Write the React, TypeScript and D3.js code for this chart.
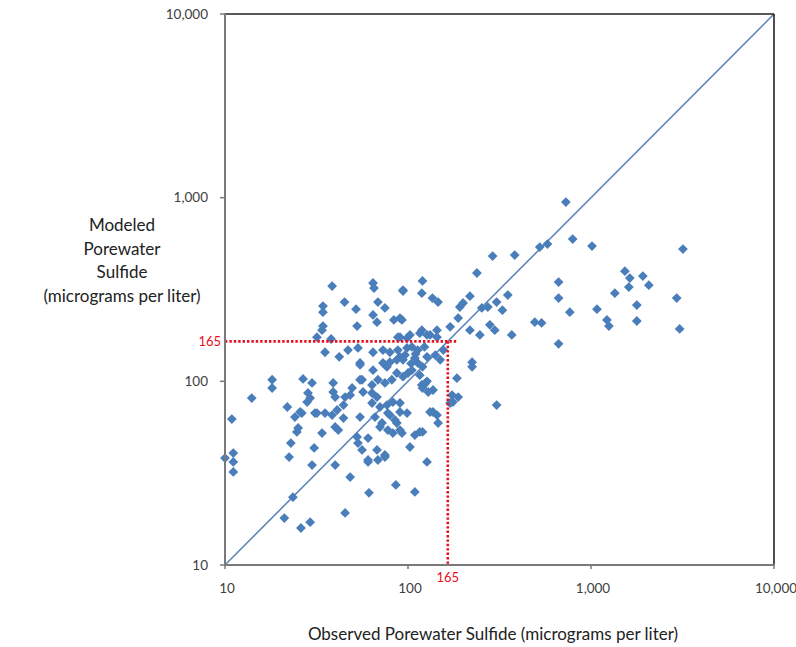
import React from "react";
import * as d3 from "d3";

// Observed porewater sulfide (µg/L) for each station
const observed: number[] = [
  10.9, 10, 11.1, 11.1, 11.1, 24.1, 26.3, 25.1, 24.7, 22.9, 22.4, 30.7, 29.9, 23.5, 21.1, 26.0, 29.2, 40.0, 48.3, 45.3,
  61.2, 85.8, 102.5, 109, 52.7, 53.3, 56.1, 60.5, 68.5, 74.8, 67.7, 33.9, 40.0, 41.6, 35.2, 38.5, 66.0, 72.1, 77.6, 86.9,
  92.7, 98.8, 77.6, 28.1, 25.7, 31.0, 41.0, 44.4, 54.7, 63.6, 70.3, 76.7, 82.7, 90.4, 79.6, 84.8, 90.4, 70.3, 82.7, 90.4,
  60.5, 74.8, 60.5, 109, 120, 127, 132, 144, 146, 176, 47.0, 54.7, 54.7, 49.5, 64.4, 73.0, 79.6, 64.4, 73.0, 76.7,
  79.6, 86.9, 90.4, 96.3, 68.5, 74.8, 81.6, 86.9, 93.9, 100, 105, 56.8, 63.6, 67.7, 90.4, 102.5, 116, 132, 144, 88.0,
  98.8, 105, 113, 123, 127, 141, 150, 109, 113, 120, 127, 120, 129, 137, 185, 188, 45.3, 238, 120, 93.9,
  119, 136, 146, 218, 200, 192, 253, 273, 305, 328, 351, 170, 188, 218, 247, 280, 298, 369, 119, 127,
  144, 92.7, 224, 224, 174, 305, 137, 119, 156, 170, 116, 729, 525, 578, 794, 1013, 3180, 665, 665, 766,
  493, 537, 665, 1532, 1630, 1920, 2070, 1610, 1350, 1078, 1222, 1253, 1780, 1780, 2940, 3050, 38.5, 64.4, 65.2, 93.9,
  34.3, 34.3, 45.0, 52.0, 68.5, 74.8, 64.4, 67.7, 83.7, 90.4, 34.3, 33.9, 31.8, 52.7, 88.0, 98.8, 38.0, 35.2, 42.1, 53.3,
  54.7, 74.8, 93.9, 18.1, 18.1, 14.0, 26.7, 29.9, 39.0, 39.0, 40.0, 48.3, 56.1, 63.6, 28.4, 29.2, 21.9, 31.8, 44.4, 290,
  383, 110, 116, 104, 124,
];

// Modeled porewater sulfide (µg/L), same order as observed
const modeled: number[] = [
  62.3, 38.2, 40.7, 36.4, 32.1, 63.9, 67.2, 55.7, 53.0, 46.1, 38.7, 43.4, 35.0, 23.4, 18.0, 15.9, 17.1, 35.0, 30.1, 19.2,
  24.7, 27.3, 43.9, 25.0, 49.8, 46.1, 42.3, 37.3, 37.3, 38.7, 42.3, 52.3, 56.4, 54.3, 67.2, 65.5, 63.9, 59.3, 54.3, 59.3,
  52.3, 67.2, 67.2, 77.1, 68.1, 67.2, 69.8, 63.1, 63.9, 76.2, 72.5, 74.3, 77.1, 76.2, 65.5, 61.6, 68.1, 56.4, 52.3, 54.3,
  49.1, 39.7, 36.4, 51.0, 53.0, 36.4, 68.1, 65.5, 59.3, 77.1, 148, 126, 102, 92, 144, 148, 144, 115, 126, 120,
  127, 131, 136, 139, 102, 98, 102, 111, 106, 111, 115, 87.5, 86.4, 82.1, 174, 179, 183, 179, 174, 148,
  152, 154, 148, 154, 136, 139, 131, 134, 126, 120, 100, 92, 87.5, 89.7, 104, 82.1, 82.1, 389, 352, 310,
  302, 284, 270, 291, 267, 254, 251, 254, 270, 244, 295, 198, 221, 190, 179, 203, 190, 179, 190, 179,
  190, 216, 127, 120, 84.2, 74.3, 68.1, 95.5, 148, 76.2, 53.0, 946, 538, 559, 595, 545, 525, 347, 284, 238,
  210, 208, 160, 398, 365, 374, 334, 326, 302, 247, 216, 200, 260, 213, 284, 193, 330, 343, 322, 314,
  257, 238, 270, 247, 270, 251, 230, 210, 216, 221, 200, 190, 174, 200, 174, 172, 170, 144, 136, 152,
  123, 123, 131, 102, 92, 81.1, 103, 98, 98, 87.5, 82.1, 84.2, 102, 95.5, 86.4, 81.1, 72.5, 67.2, 74.3, 481,
  487, 141, 108, 125, 97,
];

const decadeTicks: number[] = [10, 100, 1000, 10000];
const tickLabels: string[] = ["10", "100", "1,000", "10,000"];
const thresholdValue = 165;
const thresholdLabel = "165";
const xTitle = "Observed Porewater Sulfide (micrograms per liter)";
const yTitleLines: string[] = ["Modeled", "Porewater", "Sulfide", "(micrograms per liter)"];

const W = 796;
const H = 647;
const plot = { left: 225, right: 774, top: 14, bottom: 565 };
const FONT = "Lato, 'Open Sans', sans-serif";
const BLUE = "#4a7ebb";
const RED = "#e8101c";

export default function App() {
  const x = d3.scaleLog().domain([10, 10000]).range([plot.left, plot.right]);
  const y = d3.scaleLog().domain([10, 10000]).range([plot.bottom, plot.top]);
  const diamond = d3.symbol().type(d3.symbolSquare).size(48)();
  const points = observed.map((o, i) => ({ o, m: modeled[i] }));
  const tx = x(thresholdValue);
  const ty = y(thresholdValue);

  return (
    <svg
      width={W}
      height={H}
      style={{ position: "absolute", left: 0, top: 0, background: "#fff" }}
      fontFamily={FONT}
    >
      <rect x={0} y={0} width={W} height={H} fill="#fff" />
      {/* 1:1 line */}
      <line x1={x(10)} y1={y(10)} x2={x(10000)} y2={y(10000)} stroke="#5f86bd" strokeWidth={1.6} />
      {/* points */}
      {points.map((p, i) => (
        <path
          key={i}
          d={diamond || ""}
          transform={`translate(${x(p.o)},${y(p.m)}) rotate(45)`}
          fill={BLUE}
        />
      ))}
      {/* threshold lines */}
      <line x1={plot.left} y1={ty} x2={tx + 9} y2={ty} stroke={RED} strokeWidth={2.6} strokeDasharray="2.4,2" />
      <line x1={tx} y1={ty} x2={tx} y2={plot.bottom} stroke={RED} strokeWidth={2.6} strokeDasharray="2.4,2" />
      {/* frame */}
      <line x1={plot.left} y1={plot.top} x2={plot.right} y2={plot.top} stroke="#222" strokeWidth={1.6} />
      <line x1={plot.right} y1={plot.top} x2={plot.right} y2={plot.bottom} stroke="#222" strokeWidth={1.6} />
      <line x1={plot.left} y1={plot.top - 1} x2={plot.left} y2={plot.bottom + 1} stroke="#7a7a7a" strokeWidth={2} />
      <line x1={plot.left - 1} y1={plot.bottom} x2={plot.right + 1} y2={plot.bottom} stroke="#7a7a7a" strokeWidth={2} />
      {/* y ticks */}
      {decadeTicks.map((t, i) => (
        <g key={"y" + i}>
          <line x1={plot.left - 5} x2={plot.left} y1={y(t)} y2={y(t)} stroke="#7a7a7a" strokeWidth={1.5} />
          <text x={plot.left - 17} y={y(t)} dy="0.35em" textAnchor="end" fontSize={13.5} fill="#404040">
            {tickLabels[i]}
          </text>
        </g>
      ))}
      {/* x ticks */}
      {decadeTicks.map((t, i) => (
        <g key={"x" + i}>
          <line x1={x(t)} x2={x(t)} y1={plot.bottom} y2={plot.bottom + 4} stroke="#7a7a7a" strokeWidth={1.5} />
          <text x={x(t) + 2} y={plot.bottom + 28} textAnchor="middle" fontSize={13.5} fill="#404040">
            {tickLabels[i]}
          </text>
        </g>
      ))}
      {/* threshold labels */}
      <text x={tx} y={plot.bottom + 17} textAnchor="middle" fontSize={13} fill={RED}>
        {thresholdLabel}
      </text>
      <text x={plot.left - 4} y={ty} dy="0.35em" textAnchor="end" fontSize={13} fill={RED}>
        {thresholdLabel}
      </text>
      {/* axis titles */}
      <text x={493} y={640} textAnchor="middle" fontSize={17} fill="#222">
        {xTitle}
      </text>
      {yTitleLines.map((l, i) => (
        <text key={i} x={122} y={231 + i * 23.5} textAnchor="middle" fontSize={17} fill="#222">
          {l}
        </text>
      ))}
    </svg>
  );
}
